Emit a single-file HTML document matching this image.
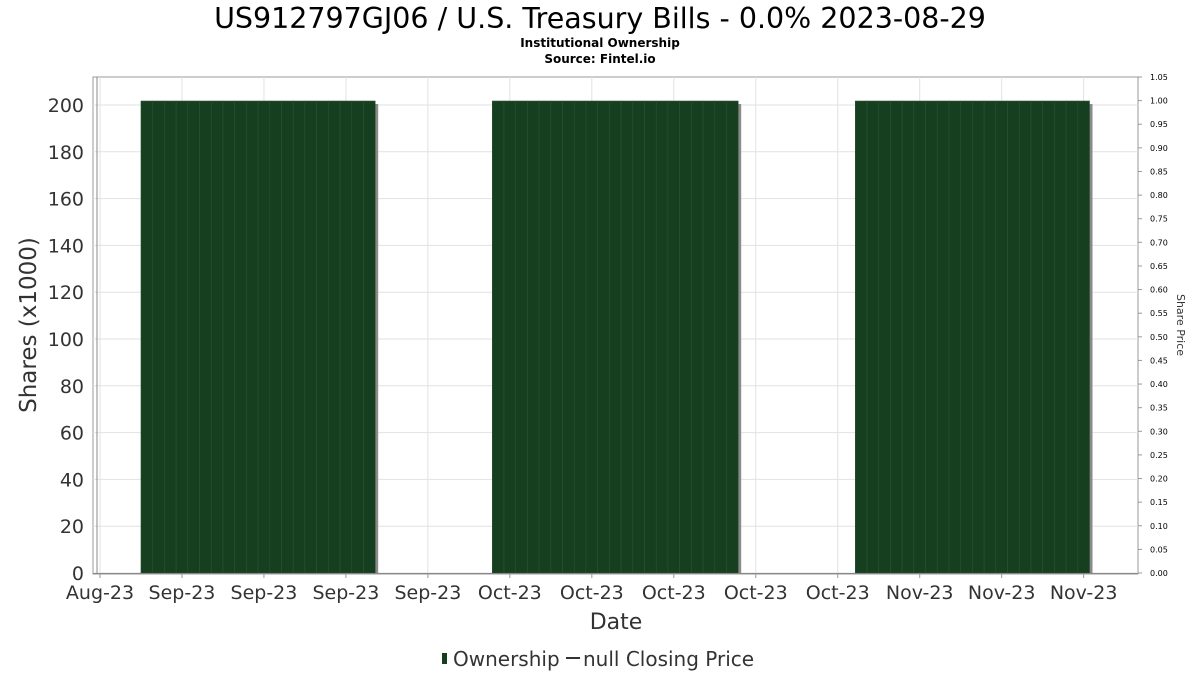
<!DOCTYPE html>
<html><head><meta charset="utf-8"><style>
body{margin:0;background:#fff;font-family:"DejaVu Sans","Liberation Sans",sans-serif;}
svg text{font-family:"DejaVu Sans","Liberation Sans",sans-serif;}
</style></head><body>
<svg id="c" width="1200" height="675" xmlns="http://www.w3.org/2000/svg">
<text x="600" y="28" text-anchor="middle" font-size="28.5" fill="#000">US912797GJ06 / U.S. Treasury Bills - 0.0% 2023-08-29</text>
<text x="600" y="47" text-anchor="middle" font-size="12" font-weight="bold">Institutional Ownership</text>
<text x="600" y="63" text-anchor="middle" font-size="12" font-weight="bold">Source: Fintel.io</text>
<rect x="93" y="77" width="1045" height="497" fill="#fff" stroke="#999"/>
<g id="grid"></g><g id="bars"></g><g id="axes"></g>
<text transform="translate(36,325) rotate(-90)" text-anchor="middle" font-size="23" fill="#333">Shares (x1000)</text>
<text transform="translate(1177,325) rotate(90)" text-anchor="middle" font-size="11" fill="#333">Share Price</text>
<text x="616" y="629" text-anchor="middle" font-size="22" fill="#333">Date</text>
<g>
<rect x="442" y="653" width="5" height="11" fill="#163f20"/>
<text x="453" y="666" font-size="20" fill="#333">Ownership</text>
<line x1="566" y1="658" x2="580" y2="658" stroke="#333" stroke-width="2"/>
<text x="583" y="666" font-size="20" fill="#333">null Closing Price</text>
</g>
</svg>
<script>
const dayLabels=["Aug-23","Sep-23","Sep-23","Sep-23","Sep-23","Oct-23","Oct-23","Oct-23","Oct-23","Oct-23","Nov-23","Nov-23","Nov-23"];
const leftTicks=[0,20,40,60,80,100,120,140,160,180,200];
const rightTicks=[0,0.05,0.1,0.15,0.2,0.25,0.3,0.35,0.4,0.45,0.5,0.55,0.6,0.65,0.7,0.75,0.8,0.85,0.9,0.95,1.0,1.05];
const barDays=[4,5,6,7,8,9,10,11,12,13,14,15,16,17,18,19,20,21,22,23,34,35,36,37,38,39,40,41,42,43,44,45,46,47,48,49,50,51,52,53,54,65,66,67,68,69,70,71,72,73,74,75,76,77,78,79,80,81,82,83,84];
const barValues=barDays.map(()=>201.7);
const NS="http://www.w3.org/2000/svg";
const dayW=11.71;
function xs(d){return 100+d*dayW;}
function ys(v){return 573-v*2.34;}
function yr(v){return 573-v*(496/1.05);}
function mk(t,a,p){const e=document.createElementNS(NS,t);for(const k in a)e.setAttribute(k,a[k]);p.appendChild(e);return e;}
const grid=document.getElementById('grid'),bars=document.getElementById('bars'),axes=document.getElementById('axes');
leftTicks.forEach(v=>{
const g=mk('line',{x1:93,x2:1138,y1:ys(v),y2:ys(v),stroke:'#e2e2e2'},grid);


const t=mk('text',{x:84,y:ys(v)+7,'text-anchor':'end','font-size':19,fill:'#333'},axes);
t.textContent=v;


});
dayLabels.forEach((l,i)=>{
const x=xs(i*7);
const g=mk('line',{x1:x,x2:x,y1:77,y2:574,stroke:'#e2e2e2'},grid);


mk('line',{x1:x,x2:x,y1:574,y2:578,stroke:'#999'},axes);
const t=mk('text',{x:x,y:599,'text-anchor':'middle','font-size':19,fill:'#333'},axes);
t.textContent=l;


});
rightTicks.forEach(v=>{
mk('line',{x1:1138,x2:1142,y1:yr(v),y2:yr(v),stroke:'#999'},axes);
const t=mk('text',{x:1150,y:yr(v)+3,'font-size':8,fill:'#000'},axes);
t.textContent=v.toFixed(2);


});
barDays.forEach((d,i)=>{
const x0=xs(d)-dayW/2,y0=ys(barValues[i]);
const s=mk('rect',{x:x0+3,y:y0+3,width:dayW,height:573-y0-3,fill:'#8a8a8a'},bars);


});
barDays.forEach((d,i)=>{
const x0=xs(d)-dayW/2,y0=ys(barValues[i]);
const r=mk('rect',{x:x0,y:y0,width:dayW,height:573-y0,fill:'#163f20',stroke:'#2a5233','stroke-width':0.6},bars);


});
mk('line',{x1:93,x2:1138,y1:573.5,y2:573.5,stroke:'#888'},axes);
mk('line',{x1:97,x2:97,y1:77,y2:574,stroke:'#888'},axes);
</script>
</body></html>
